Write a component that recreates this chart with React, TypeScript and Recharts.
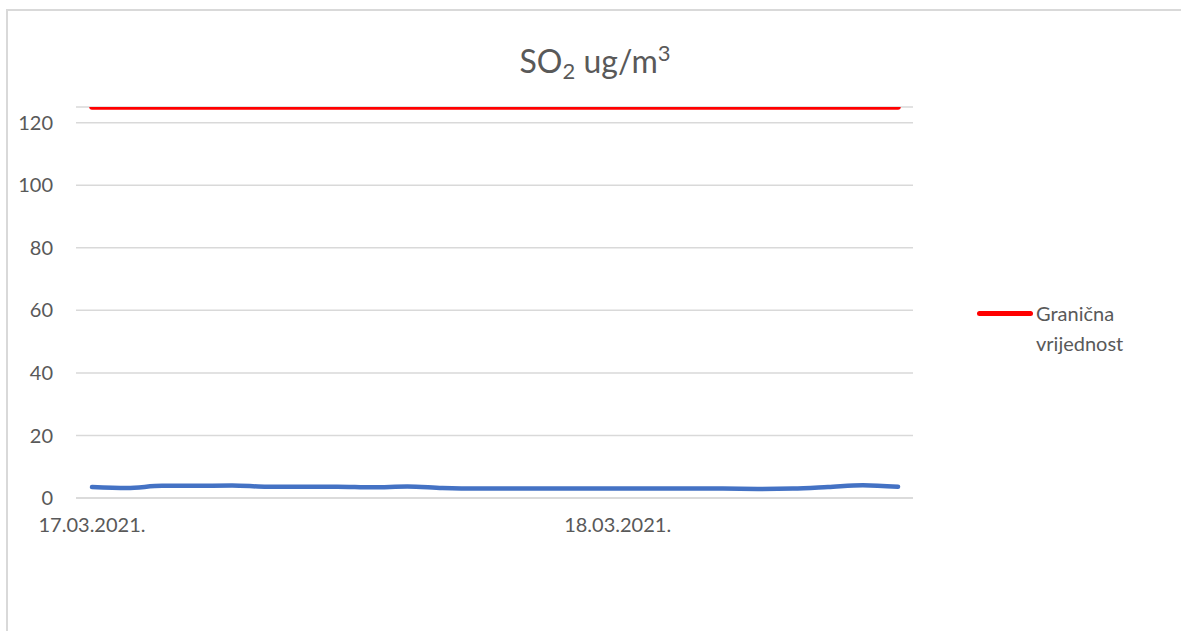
import React from 'react';
import { LineChart, Line, XAxis, YAxis, CartesianGrid, Legend } from 'recharts';

// hourly measurements, 17.03.2021. 09:00 -> 18.03.2021. 08:00
const hours = [
  '17.03.2021. 09:00', '17.03.2021. 10:00', '17.03.2021. 11:00', '17.03.2021. 12:00',
  '17.03.2021. 13:00', '17.03.2021. 14:00', '17.03.2021. 15:00', '17.03.2021. 16:00',
  '17.03.2021. 17:00', '17.03.2021. 18:00', '17.03.2021. 19:00', '17.03.2021. 20:00',
  '17.03.2021. 21:00', '17.03.2021. 22:00', '17.03.2021. 23:00', '18.03.2021. 00:00',
  '18.03.2021. 01:00', '18.03.2021. 02:00', '18.03.2021. 03:00', '18.03.2021. 04:00',
  '18.03.2021. 05:00', '18.03.2021. 06:00', '18.03.2021. 07:00', '18.03.2021. 08:00',
];
const so2 = [3.5, 3.2, 3.9, 3.9, 4.0, 3.6, 3.6, 3.6, 3.4, 3.7, 3.2, 3.0, 3.0, 3.0, 3.0, 3.0, 3.0, 3.0, 3.0, 2.9, 3.0, 3.5, 4.1, 3.6];
const limit = [125, 125, 125, 125, 125, 125, 125, 125, 125, 125, 125, 125, 125, 125, 125, 125, 125, 125, 125, 125, 125, 125, 125, 125];
const dateTicks = ['17.03.2021. 09:00', '18.03.2021. 00:00'];
const yTicks = [0, 20, 40, 60, 80, 100, 120];

const data = hours.map((h, i) => ({ time: h, so2: so2[i], limit: limit[i] }));

const FONT = 'Lato, "Open Sans", sans-serif';
const TEXT = '#595959';

const LegendBox = () => (
  <div style={{ display: 'flex', alignItems: 'flex-start', fontFamily: FONT, fontSize: 20, color: TEXT, textAlign: 'left' }}>
    <div style={{ width: 56, height: 5, background: '#ff0000', borderRadius: 3, marginTop: 13, marginRight: 3 }} />
    <div style={{ lineHeight: '30px' }}>
      Granična
      <br />
      vrijednost
    </div>
  </div>
);

export default function App() {
  return (
    <div style={{ position: 'fixed', left: 0, top: 0, width: 1181, height: 631, background: '#fff', overflow: 'hidden' }}>
      <div style={{ position: 'absolute', left: 6, top: 9, right: -20, bottom: -20, borderTop: '2px solid #d9d9d9', borderLeft: '2px solid #d9d9d9' }} />
      <div style={{ position: 'absolute', left: 0, width: 1190, top: 33, textAlign: 'center', fontFamily: FONT, fontSize: 32, color: TEXT, lineHeight: '40px' }}>
        SO<sub style={{ fontSize: 22, verticalAlign: -6 }}>2</sub> ug/m<sup style={{ fontSize: 22, verticalAlign: 12 }}>3</sup>
      </div>
      <LineChart width={1181} height={631} data={data} margin={{ top: 107, right: 268, bottom: 103, left: 0 }} style={{ position: 'absolute', left: 0, top: 0 }}>
        <CartesianGrid vertical={false} stroke="#d9d9d9" strokeWidth={1.5} />
        <XAxis
          dataKey="time"
          ticks={dateTicks}
          interval={0}
          tickFormatter={(v: string) => v.split(' ')[0]}
          padding={{ left: 16, right: 15 }}
          axisLine={{ stroke: '#d9d9d9', strokeWidth: 1.5 }}
          tickLine={false}
          tickSize={6}
          tickMargin={14}
          height={30}
          tick={{ fill: TEXT, fontSize: 20, fontFamily: FONT }}
        />
        <YAxis
          domain={[0, 125]}
          ticks={yTicks}
          allowDataOverflow
          axisLine={false}
          tickLine={false}
          tickSize={6}
          tickMargin={17}
          width={76}
          tick={{ fill: TEXT, fontSize: 20, fontFamily: FONT }}
        />
        <Legend
          layout="horizontal"
          verticalAlign="middle"
          align="center"
          wrapperStyle={{ left: 977, top: 298, width: 170 }}
          content={() => <LegendBox />}
        />
        <Line type="linear" dataKey="limit" stroke="#ff0000" strokeWidth={5.5} strokeLinecap="round" dot={false} isAnimationActive={false} />
        <Line type="monotone" dataKey="so2" stroke="#4472c4" strokeWidth={4.5} strokeLinecap="round" dot={false} isAnimationActive={false} legendType="none" />
      </LineChart>
    </div>
  );
}
